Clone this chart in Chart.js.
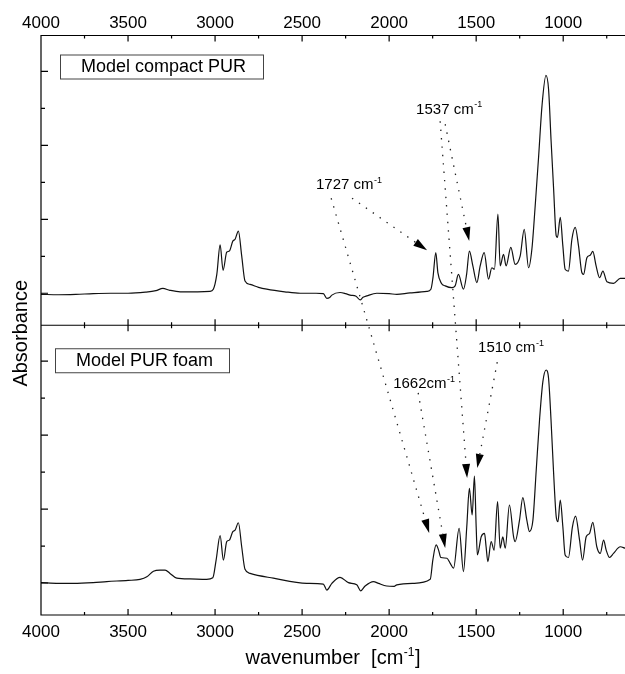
<!DOCTYPE html>
<html>
<head>
<meta charset="utf-8">
<script src="https://cdn.jsdelivr.net/npm/chart.js@4.4.0/dist/chart.umd.min.js"></script>
<style>
  html, body { margin: 0; padding: 0; background: #fff; }
  canvas { display: block; }
</style>
</head>
<body>
<canvas id="spectra" width="625" height="674"></canvas>
<script>
const FONT = '"Liberation Sans", Arial, sans-serif';

// FTIR spectra (wavenumber in cm-1, absorbance a.u.)
const seriesNames = ['Model compact PUR', 'Model PUR foam'];

const topWn = [4000, 3900, 3800, 3700, 3600, 3500, 3400, 3340, 3300, 3260,
  3200, 3100, 3030, 3010, 2990, 2971, 2954, 2933, 2918, 2898,
  2885, 2866, 2847, 2828, 2799, 2750, 2703, 2600, 2511, 2420,
  2378, 2358, 2340, 2329, 2282, 2250, 2224, 2190, 2167, 2150,
  2128, 2071, 2000, 1956, 1880, 1783, 1760, 1748, 1732, 1720,
  1700, 1678, 1640, 1621, 1602, 1573, 1555, 1539, 1519, 1496,
  1477, 1454, 1429, 1410, 1395, 1375, 1362, 1343, 1328, 1301,
  1276, 1247, 1224, 1199, 1180, 1161, 1141, 1122, 1099, 1084,
  1070, 1055, 1040, 1033, 1017, 1002, 989, 970, 950, 931,
  912, 893, 883, 864, 845, 830, 811, 791, 772, 749,
  711, 672, 645];
const topAbs = [-0.003, -0.004, -0.003, -0.001, 0, 0, 0.003, 0.007, 0.013, 0.008,
  0.004, 0.004, 0.005, 0.011, 0.051, 0.131, 0.062, 0.111, 0.114, 0.141,
  0.146, 0.168, 0.101, 0.033, 0.024, 0.016, 0.011, 0.004, 0, 0,
  -0.001, -0.014, -0.011, -0.005, 0.002, -0.001, -0.005, -0.008, -0.018, -0.011,
  -0.007, 0, -0.001, -0.003, 0.001, 0.005, 0.011, 0.043, 0.11, 0.056,
  0.027, 0.020, 0.015, 0.020, 0.051, 0.011, 0.051, 0.114, 0.074, 0.029,
  0.074, 0.11, 0.038, 0.069, 0.065, 0.214, 0.074, 0.105, 0.074, 0.124,
  0.078, 0.101, 0.173, 0.069, 0.119, 0.236, 0.371, 0.506, 0.589, 0.551,
  0.416, 0.281, 0.155, 0.151, 0.205, 0.128, 0.065, 0.060, 0.146, 0.178,
  0.128, 0.056, 0.051, 0.096, 0.103, 0.113, 0.074, 0.042, 0.060, 0.031,
  0.027, 0.040, 0.040];

const botWn = [4000, 3900, 3816, 3700, 3622, 3500, 3431, 3392, 3354, 3316,
  3287, 3259, 3220, 3144, 3048, 3013, 2994, 2971, 2952, 2933,
  2918, 2898, 2885, 2866, 2847, 2828, 2799, 2665, 2473, 2378,
  2358, 2329, 2282, 2234, 2186, 2163, 2138, 2090, 2061, 2014,
  1971, 1956, 1860, 1764, 1749, 1730, 1716, 1703, 1668, 1649,
  1630, 1598, 1573, 1554, 1539, 1523, 1510, 1500, 1493, 1471,
  1452, 1443, 1433, 1414, 1397, 1377, 1362, 1347, 1333, 1309,
  1285, 1276, 1251, 1232, 1209, 1194, 1174, 1155, 1136, 1117,
  1098, 1084, 1070, 1055, 1040, 1030, 1017, 1002, 989, 970,
  947, 929, 906, 889, 868, 849, 830, 807, 787, 768,
  753, 734, 711, 672, 645];
const botAbs = [0.001, -0.001, -0.001, 0.001, 0.004, 0.007, 0.010, 0.017, 0.032, 0.035,
  0.035, 0.026, 0.013, 0.011, 0.010, 0.014, 0.062, 0.128, 0.062, 0.112,
  0.116, 0.139, 0.143, 0.163, 0.098, 0.037, 0.026, 0.013, -0.001, -0.003,
  -0.019, -0.001, 0.015, 0.001, -0.005, -0.021, -0.008, 0.004, -0.001, -0.008,
  -0.009, -0.005, -0.001, 0.010, 0.062, 0.103, 0.089, 0.069, 0.067, 0.053,
  0.040, 0.148, 0.031, 0.152, 0.256, 0.184, 0.289, 0.152, 0.076, 0.125,
  0.134, 0.098, 0.058, 0.112, 0.089, 0.220, 0.094, 0.125, 0.094, 0.211,
  0.125, 0.112, 0.170, 0.231, 0.170, 0.139, 0.170, 0.305, 0.441, 0.544,
  0.576, 0.553, 0.441, 0.296, 0.179, 0.166, 0.224, 0.152, 0.076, 0.069,
  0.152, 0.181, 0.116, 0.062, 0.125, 0.134, 0.164, 0.098, 0.080, 0.116,
  0.089, 0.069, 0.080, 0.098, 0.094];

// peak labels (data coordinates) and the dotted arrows
const noteText = ['1727 cm', '1537 cm', '1662cm', '1510 cm'];
const noteWn = [2420, 1845, 1977, 1489];
const noteAbs = [0.281, 0.486, 0.527, 0.624];
const notePanel = ['yTop', 'yTop', 'yBot', 'yBot'];

const arrowFromWn = [2213, 2333, 1678, 1707, 1833, 1379];
const arrowFromAbs = [0.257, 0.257, 0.457, 0.465, 0.514, 0.597];
const arrowFromPanel = ['yTop', 'yTop', 'yTop', 'yTop', 'yBot', 'yBot'];
const arrowToWn = [1782, 1770, 1540, 1552, 1678, 1494];
const arrowToAbs = [0.116, 0.135, 0.141, 0.284, 0.095, 0.311];
const arrowToPanel = ['yTop', 'yBot', 'yTop', 'yBot', 'yBot', 'yBot'];

const wnMin = 645, wnMax = 4000;
const absMin = -0.0865, absMax = 0.697;

function toXY(wn, ab) {
  return wn.map((w, i) => ({ x: w, y: ab[i] }));
}

function drawSup(ctx, text, sup, x, y, size) {
  ctx.font = size + 'px ' + FONT;
  ctx.fillText(text, x, y);
  const w = ctx.measureText(text).width;
  ctx.font = Math.round(size * 0.62) + 'px ' + FONT;
  ctx.fillText(sup, x + w + 0.5, y - size * 0.42);
  return w + ctx.measureText(sup).width + 0.5;
}

const frame = {
  id: 'frame',
  afterDatasetsDraw(chart) {
    const { ctx, chartArea: a, scales } = chart;
    const x = scales.x, yT = scales.yTop, yB = scales.yBot;
    ctx.save();
    ctx.strokeStyle = '#000';
    ctx.lineWidth = 1.2;
    ctx.beginPath();
    ctx.moveTo(a.right, a.top); ctx.lineTo(a.left, a.top);
    ctx.lineTo(a.left, a.bottom); ctx.lineTo(a.right, a.bottom);
    ctx.moveTo(a.left, yT.bottom); ctx.lineTo(a.right, yT.bottom);
    x.ticks.forEach(t => {
      if (t.value % 250 !== 0) return;
      const px = x.getPixelForValue(t.value);
      const len = t.value % 500 === 0 ? 6 : 3;
      ctx.moveTo(px, a.top); ctx.lineTo(px, a.top + len);
      ctx.moveTo(px, yT.bottom); ctx.lineTo(px, yT.bottom - len);
      ctx.moveTo(px, yB.top); ctx.lineTo(px, yB.top + len);
      ctx.moveTo(px, a.bottom); ctx.lineTo(px, a.bottom - len);
    });
    [yT, yB].forEach(s => s.ticks.forEach(t => {
      const k = Math.round(t.value * 10);
      if (k < 0) return;
      const py = s.getPixelForValue(t.value);
      const len = k % 2 === 0 ? 7 : 4;
      ctx.moveTo(a.left, py); ctx.lineTo(a.left + len, py);
    }));
    ctx.stroke();

    // sample boxes
    ctx.fillStyle = '#000';
    ctx.strokeStyle = '#444';
    ctx.lineWidth = 1;
    ctx.strokeRect(a.left + 19.5, yT.top + 19.5, 203, 24);
    ctx.strokeRect(a.left + 14.5, yB.top + 23.5, 174, 24);
    ctx.font = '18px ' + FONT;
    ctx.textBaseline = 'middle';
    ctx.fillText(seriesNames[0], a.left + 40, yT.top + 32);
    ctx.fillText(seriesNames[1], a.left + 35, yB.top + 36);

    // dotted arrows
    ctx.strokeStyle = '#222';
    ctx.fillStyle = '#000';
    for (let i = 0; i < arrowFromWn.length; i++) {
      const x0 = x.getPixelForValue(arrowFromWn[i]);
      const y0 = scales[arrowFromPanel[i]].getPixelForValue(arrowFromAbs[i]);
      const x1 = x.getPixelForValue(arrowToWn[i]);
      const y1 = scales[arrowToPanel[i]].getPixelForValue(arrowToAbs[i]);
      const L = Math.hypot(x1 - x0, y1 - y0);
      const ux = (x1 - x0) / L, uy = (y1 - y0) / L;
      const bx = x1 - ux * 14, by = y1 - uy * 14;
      ctx.setLineDash([1.4, 7]);
      ctx.lineWidth = 1.3;
      ctx.beginPath();
      ctx.moveTo(x0, y0); ctx.lineTo(bx, by);
      ctx.stroke();
      ctx.setLineDash([]);
      ctx.beginPath();
      ctx.moveTo(x1, y1);
      ctx.lineTo(bx - uy * 4, by + ux * 4);
      ctx.lineTo(bx + uy * 4, by - ux * 4);
      ctx.closePath();
      ctx.fill();
    }

    // peak labels
    ctx.textBaseline = 'alphabetic';
    for (let i = 0; i < noteText.length; i++) {
      const px = x.getPixelForValue(noteWn[i]);
      const py = scales[notePanel[i]].getPixelForValue(noteAbs[i]);
      drawSup(ctx, noteText[i], '-1', px, py, 15);
    }

    // axis titles
    ctx.save();
    ctx.translate(a.left - 14, (a.top + a.bottom) / 2 + 8);
    ctx.rotate(-Math.PI / 2);
    ctx.font = '20px ' + FONT;
    ctx.textAlign = 'center';
    ctx.fillText('Absorbance', 0, 0);
    ctx.restore();

    ctx.font = '20px ' + FONT;
    const w1 = ctx.measureText('wavenumber  [cm').width;
    ctx.font = '12px ' + FONT;
    const w2 = ctx.measureText('-1').width;
    ctx.font = '20px ' + FONT;
    const w3 = ctx.measureText(']').width;
    let tx = (a.left + a.right) / 2 - (w1 + w2 + w3 + 1) / 2;
    const ty = a.bottom + 49;
    tx += drawSup(ctx, 'wavenumber  [cm', '-1', tx, ty, 20);
    ctx.font = '20px ' + FONT;
    ctx.fillText(']', tx + 0.5, ty);
    ctx.restore();
  }
};

const xTicks = {
  stepSize: 250,
  includeBounds: false,
  autoSkip: false,
  maxRotation: 0,
  font: { size: 17, family: FONT },
  color: '#000',
  callback: v => (v % 500 === 0 ? String(v) : '')
};

const panelAxis = {
  type: 'linear',
  axis: 'y',
  position: 'left',
  stack: 'spectra',
  stackWeight: 1,
  min: absMin,
  max: absMax,
  ticks: { display: false, stepSize: 0.1, includeBounds: false },
  grid: { display: false, drawTicks: false },
  border: { display: false },
  afterFit: s => { s.width = 41; }
};

new Chart(document.getElementById('spectra'), {
  type: 'line',
  data: {
    datasets: [
      {
        label: seriesNames[0],
        data: toXY(topWn, topAbs),
        xAxisID: 'x',
        yAxisID: 'yTop',
        borderColor: '#111',
        borderWidth: 1.2,
        pointRadius: 0,
        cubicInterpolationMode: 'monotone',
        fill: false
      },
      {
        label: seriesNames[1],
        data: toXY(botWn, botAbs),
        xAxisID: 'x',
        yAxisID: 'yBot',
        borderColor: '#111',
        borderWidth: 1.2,
        pointRadius: 0,
        cubicInterpolationMode: 'monotone',
        fill: false
      }
    ]
  },
  options: {
    responsive: false,
    animation: false,
    devicePixelRatio: 1,
    layout: { padding: 0 },
    plugins: { legend: { display: false }, tooltip: { enabled: false } },
    scales: {
      x: {
        type: 'linear',
        position: 'bottom',
        reverse: true,
        min: wnMin,
        max: wnMax,
        ticks: Object.assign({ padding: 7 }, xTicks),
        grid: { display: false, drawTicks: false },
        border: { display: false },
        afterFit: s => { s.height = 59; }
      },
      xTop: {
        type: 'linear',
        axis: 'x',
        position: 'top',
        reverse: true,
        min: wnMin,
        max: wnMax,
        ticks: Object.assign({ padding: 2 }, xTicks),
        grid: { display: false, drawTicks: false },
        border: { display: false },
        afterFit: s => { s.height = 35.5; }
      },
      // the stack is laid out from the bottom up
      yBot: Object.assign({}, panelAxis),
      yTop: Object.assign({}, panelAxis)
    }
  },
  plugins: [frame]
});
</script>
</body>
</html>
